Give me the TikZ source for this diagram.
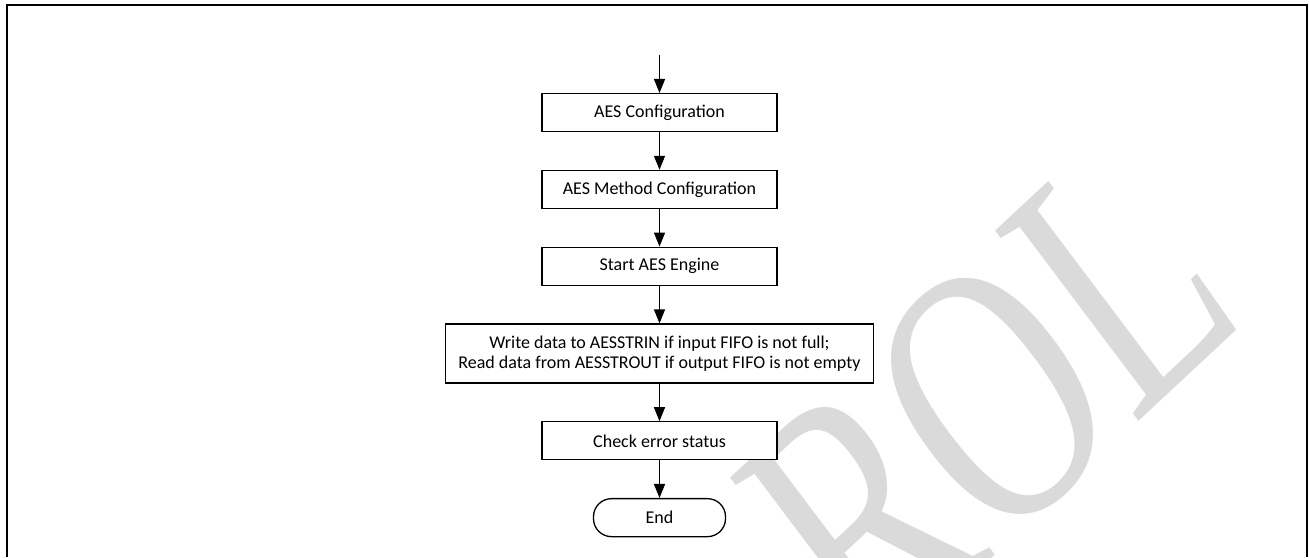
\documentclass[tikz,border=0pt]{standalone}
\usepackage{fontspec}
\setmainfont{Carlito}
\newfontfamily\wmfont{Liberation Serif}
\usetikzlibrary{positioning,arrows.meta}
\definecolor{wmgray}{RGB}{218,218,218}

\begin{document}
\begin{tikzpicture}[
    x=1pt,y=1pt,>={Triangle[length=14pt,width=11pt]},node distance=37.5pt,
    box/.style={rectangle,draw,fill=white,line width=1.3pt,minimum width=235pt,minimum height=38pt,inner sep=2pt,align=center,font=\fontsize{18}{20}\selectfont},
    term/.style={box,rounded corners=18pt,minimum width=132pt},
    wm/.style={text=wmgray,rotate=43,xslant=0.105,xscale=0.72,inner sep=0pt,font=\wmfont\fontsize{362}{362}\selectfont}]
    \useasboundingbox (0,0) rectangle (1309,557);
    % watermark behind the chart
    \begin{scope}
      \clip (8,0) rectangle (1306,551);
      \node[wm,anchor=base east] (W1) at (1250,239) {ROL};
    \end{scope}
    \draw[line width=2pt] (7,0) -- (7,552) -- (1307,552) -- (1307,0);

    \coordinate (S0) at (659.5,502);
    \node[box] (A1) [below=38pt of S0] {AES Configuration};
    \node[box] (A2) [below=of A1] {AES Method Configuration};
    \node[box] (A3) [below=of A2] {Start AES Engine};
    \node[box,minimum width=428pt,minimum height=59pt] (A4) [below=of A3] {Write data to AESSTRIN if input FIFO is not full;\\Read data from AESSTROUT if output FIFO is not empty};
    \node[box] (A5) [below=of A4] {Check error status};
    \node[term] (E1) [below=of A5] {End};

    \draw[->,line width=1.3pt] (S0) -- (A1);
    \draw[->,line width=1.3pt] (A1) -- (A2);
    \draw[->,line width=1.3pt] (A2) -- (A3);
    \draw[->,line width=1.3pt] (A3) -- (A4);
    \draw[->,line width=1.3pt] (A4) -- (A5);
    \draw[->,line width=1.3pt] (A5) -- (E1);
\end{tikzpicture}
\end{document}
